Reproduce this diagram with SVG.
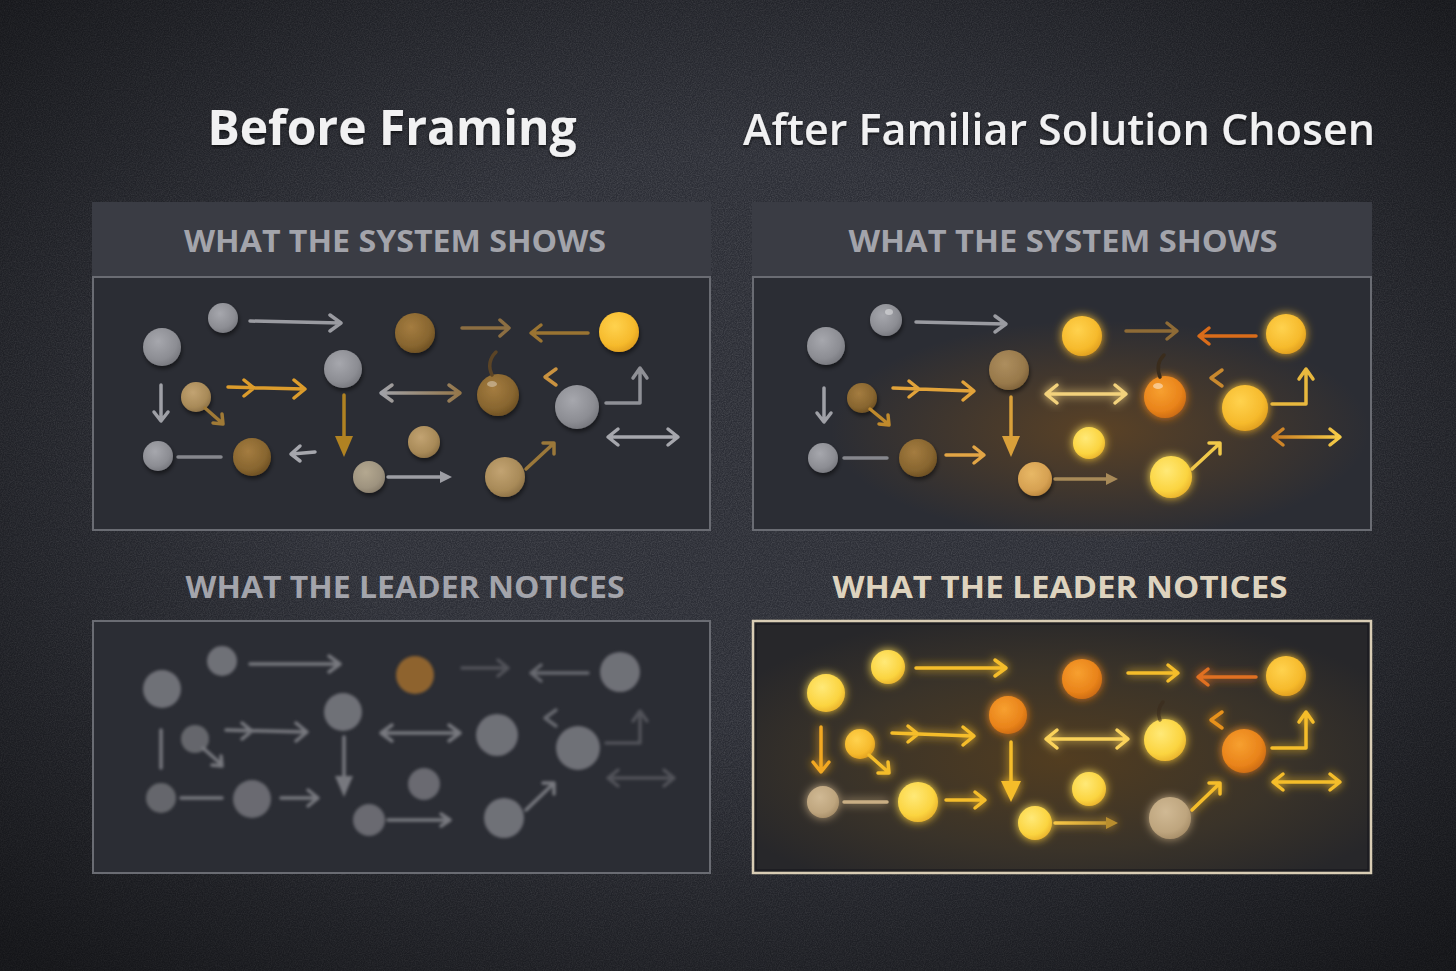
<svg xmlns="http://www.w3.org/2000/svg" width="1456" height="971" viewBox="0 0 1456 971">
<defs>
<style>
.title{font-family:"Open Sans","Noto Sans","Liberation Sans",sans-serif;fill:#f1f1f2}
.hdr{font-family:"Open Sans","Noto Sans","Liberation Sans",sans-serif;font-weight:700;font-size:30px;fill:#a3a4ab}
.box{fill:#2b2d34;stroke:#6a6c73;stroke-width:2}
.band{fill:#3a3c44}
.a{fill:none;stroke-linecap:round;stroke-linejoin:round;stroke-width:3.5}
.t{stroke:none}
</style>
<radialGradient id="vig" cx="50%" cy="45%" r="72%"><stop offset="0.4" stop-color="#000" stop-opacity="0"/><stop offset="1" stop-color="#000" stop-opacity="0.55"/></radialGradient>
<radialGradient id="gGrey" cx="40%" cy="35%" r="70%"><stop offset="0" stop-color="#a6a7ad"/><stop offset="0.7" stop-color="#8c8d93"/><stop offset="1" stop-color="#75767c"/></radialGradient>
<radialGradient id="gBrown" cx="40%" cy="35%" r="70%"><stop offset="0" stop-color="#a47c40"/><stop offset="0.7" stop-color="#87652f"/><stop offset="1" stop-color="#6a4d22"/></radialGradient>
<radialGradient id="gTan" cx="40%" cy="35%" r="70%"><stop offset="0" stop-color="#c2a372"/><stop offset="0.7" stop-color="#a88a58"/><stop offset="1" stop-color="#8a6f45"/></radialGradient>
<radialGradient id="gGreyTan" cx="40%" cy="35%" r="70%"><stop offset="0" stop-color="#b4a890"/><stop offset="0.7" stop-color="#9e937f"/><stop offset="1" stop-color="#867b69"/></radialGradient>
<radialGradient id="gYel" cx="40%" cy="35%" r="70%"><stop offset="0" stop-color="#ffd24e"/><stop offset="0.7" stop-color="#f6ba2c"/><stop offset="1" stop-color="#de9c1e"/></radialGradient>
<radialGradient id="gYelB" cx="40%" cy="35%" r="70%"><stop offset="0" stop-color="#ffe977"/><stop offset="0.7" stop-color="#fbd440"/><stop offset="1" stop-color="#e8b02a"/></radialGradient>
<radialGradient id="gOr" cx="40%" cy="35%" r="70%"><stop offset="0" stop-color="#f7a030"/><stop offset="0.7" stop-color="#e9831a"/><stop offset="1" stop-color="#c86812"/></radialGradient>
<radialGradient id="gBrL" cx="40%" cy="35%" r="70%"><stop offset="0" stop-color="#ad8e5e"/><stop offset="0.7" stop-color="#98794b"/><stop offset="1" stop-color="#7c6038"/></radialGradient>
<radialGradient id="gTanL" cx="40%" cy="35%" r="70%"><stop offset="0" stop-color="#d0b994"/><stop offset="0.7" stop-color="#bea57e"/><stop offset="1" stop-color="#a48b66"/></radialGradient>
<radialGradient id="gTanO" cx="40%" cy="35%" r="70%"><stop offset="0" stop-color="#e8b866"/><stop offset="0.7" stop-color="#d6a152"/><stop offset="1" stop-color="#b8843c"/></radialGradient>
<radialGradient id="warm2" cx="50%" cy="50%" r="50%"><stop offset="0" stop-color="#a8640e" stop-opacity="0.38"/><stop offset="1" stop-color="#a8640e" stop-opacity="0"/></radialGradient>
<radialGradient id="warm4" cx="50%" cy="55%" r="60%"><stop offset="0" stop-color="#523d20"/><stop offset="0.6" stop-color="#3a3329"/><stop offset="1" stop-color="#27272a"/></radialGradient>
<linearGradient id="gGB" gradientUnits="userSpaceOnUse" x1="381" y1="0" x2="460" y2="0"><stop offset="0" stop-color="#a0a1a7"/><stop offset="1" stop-color="#95774a"/></linearGradient>
<linearGradient id="gOY" gradientUnits="userSpaceOnUse" x1="1273" y1="0" x2="1340" y2="0"><stop offset="0" stop-color="#c87a22"/><stop offset="1" stop-color="#f6cd48"/></linearGradient>
<linearGradient id="gYA" gradientUnits="userSpaceOnUse" x1="1055" y1="0" x2="1118" y2="0"><stop offset="0" stop-color="#f7c646"/><stop offset="1" stop-color="#b98e2e"/></linearGradient>
<filter id="noise" x="0" y="0" width="100%" height="100%"><feTurbulence type="fractalNoise" baseFrequency="0.85" numOctaves="2" stitchTiles="stitch"/><feColorMatrix type="matrix" values="0 0 0 0 1 0 0 0 0 1 0 0 0 0 1 0.22 0 0 0 -0.07"/></filter>
<filter id="sh" x="-30%" y="-30%" width="160%" height="170%"><feDropShadow dx="1" dy="3" stdDeviation="2" flood-color="#000" flood-opacity="0.5"/></filter>
<filter id="glow" x="-50%" y="-50%" width="200%" height="200%"><feGaussianBlur in="SourceGraphic" stdDeviation="5" result="b"/><feMerge><feMergeNode in="b"/><feMergeNode in="SourceGraphic"/></feMerge></filter>
<filter id="blur" x="-5%" y="-5%" width="110%" height="110%"><feGaussianBlur stdDeviation="1.8"/></filter>
<filter id="tsh" x="-5%" y="-20%" width="110%" height="150%"><feDropShadow dx="0" dy="2" stdDeviation="1.5" flood-color="#000" flood-opacity="0.6"/></filter>
</defs>

<rect width="1456" height="971" fill="#2c2e36"/>
<rect width="1456" height="971" filter="url(#noise)"/>
<rect width="1456" height="971" fill="url(#vig)"/>

<g id="titles" filter="url(#tsh)">
<text class="title" x="392" y="145" text-anchor="middle" font-size="48" font-weight="700">Before Framing</text>
<text class="title" x="1059" y="145" text-anchor="middle" font-size="44" font-weight="600" textLength="632" lengthAdjust="spacingAndGlyphs">After Familiar Solution Chosen</text>
</g>

<!-- ===== Panel TL ===== -->
<g id="panel-tl">
<rect class="band" x="92" y="202" width="619" height="74"/>
<text class="hdr" x="395" y="252" text-anchor="middle" textLength="422" lengthAdjust="spacingAndGlyphs">WHAT THE SYSTEM SHOWS</text>
<rect class="box" x="93" y="277" width="617" height="253"/>
<g id="tl-nodes" filter="url(#sh)">
<circle id="tl-n1" cx="162" cy="347" r="19" fill="url(#gGrey)"/>
<circle id="tl-n2" cx="223" cy="318" r="15" fill="url(#gGrey)"/>
<circle id="tl-n4" cx="415" cy="333" r="20" fill="url(#gBrown)"/>
<circle id="tl-n7" cx="619" cy="332" r="20" fill="url(#gYel)"/>
<circle id="tl-n8" cx="343" cy="369" r="19" fill="url(#gGrey)"/>
<circle id="tl-n10" cx="196" cy="397" r="15" fill="url(#gTan)"/>
<circle id="tl-n13" cx="498" cy="395" r="21" fill="url(#gBrown)"/>
<circle id="tl-n15" cx="577" cy="407" r="22" fill="url(#gGrey)"/>
<circle id="tl-n18" cx="158" cy="456" r="15" fill="url(#gGrey)"/>
<circle id="tl-n20" cx="252" cy="457" r="19" fill="url(#gBrown)"/>
<circle id="tl-n23" cx="424" cy="442" r="16" fill="url(#gTan)"/>
<circle id="tl-n24" cx="369" cy="477" r="16" fill="url(#gGreyTan)"/>
<circle id="tl-n26" cx="505" cy="477" r="20" fill="url(#gTan)"/>
</g>
<ellipse cx="492" cy="384" rx="5" ry="3" fill="#fff" opacity="0.35"/>
<g id="tl-connectors" class="conn">
<path class="a" stroke="#9a9ba1" d="M250 321 L340 323 M330 315 L341 323 L330 331"/>
<path class="a" stroke="#8c6e42" d="M462 328 L509 328 M500 320 L509 328 L500 336"/>
<path class="a" stroke="#9a7432" d="M588 333 L532 333 M541 325 L531 333 L541 341"/>
<path class="a" stroke="#5b4426" stroke-width="2.5" d="M492 375 Q486 362 496 352"/>
<path class="a" stroke="#9fa0a6" stroke-width="3" d="M161 385 L161 420 M154 412 L161 421 L168 412"/>
<path class="a" stroke="#a07a36" d="M205 408 L221 422 M213 423 L223 424 L222 414"/>
<path class="a" stroke="#dc9c2c" stroke-width="4" d="M228 387 L304 389 M244 380 L254 388 L244 396 M294 380 L305 389 L294 398"/>
<path class="a" stroke="url(#gGB)" stroke-width="4" d="M383 393 L458 393 M392 385 L381 393 L392 401 M449 385 L460 393 L449 401"/>
<path class="a" stroke="#c99240" stroke-width="4" d="M556 369 L545 377 L556 385"/>
<path class="a" stroke="#8f9096" stroke-width="3" d="M606 403 L640 403 L640 369 M633 378 L640 368 L647 378"/>
<path class="a" stroke="#a6a7ad" d="M609 437 L677 437 M618 429 L608 437 L618 445 M668 429 L678 437 L668 445"/>
<path class="a" stroke="#86878d" stroke-width="3" d="M178 457 L221 457"/>
<path class="a" stroke="#a6a7ad" d="M315 452 L292 454 M300 446 L291 454 L300 461"/>
<path class="a" stroke="#b08222" stroke-width="3.5" d="M344 395 L344 440"/>
<path class="t" fill="#b08222" d="M335 436 L353 436 L344 457 Z"/>
<path class="a" stroke="#9d9ea4" stroke-width="3" d="M388 477 L441 477"/>
<path class="t" fill="#9d9ea4" d="M440 471 L452 477 L440 483 Z"/>
<path class="a" stroke="#9b783a" d="M526 469 L553 444 M543 443 L554 443 L554 454"/>
</g>
</g>

<!-- ===== Panel TR ===== -->
<g id="panel-tr">
<rect class="band" x="752" y="202" width="620" height="74"/>
<text class="hdr" x="1063" y="252" text-anchor="middle" textLength="429" lengthAdjust="spacingAndGlyphs">WHAT THE SYSTEM SHOWS</text>
<rect class="box" x="753" y="277" width="618" height="253"/>
<ellipse cx="1100" cy="430" rx="270" ry="110" fill="url(#warm2)"/>
<g id="tr-nodes" filter="url(#sh)">
<circle id="tr-n1" cx="826" cy="346" r="19" fill="url(#gGrey)"/>
<circle id="tr-n2" cx="886" cy="320" r="16" fill="url(#gGrey)"/>
<circle id="tr-n8" cx="1009" cy="370" r="20" fill="url(#gBrL)"/>
<circle id="tr-n10" cx="862" cy="398" r="15" fill="url(#gBrown)"/>
<circle id="tr-n18" cx="823" cy="458" r="15" fill="url(#gGrey)"/>
<circle id="tr-n20" cx="918" cy="458" r="19" fill="url(#gBrown)"/>
<circle id="tr-n24" cx="1035" cy="479" r="17" fill="url(#gTanO)"/>
</g>
<g id="tr-bright" filter="url(#glow)">
<circle id="tr-n4" cx="1082" cy="336" r="20" fill="url(#gYel)"/>
<circle id="tr-n7" cx="1286" cy="334" r="20" fill="url(#gYel)"/>
<circle id="tr-n13" cx="1165" cy="397" r="21" fill="url(#gOr)"/>
<circle id="tr-n15" cx="1245" cy="408" r="23" fill="url(#gYel)"/>
<circle id="tr-n23" cx="1089" cy="443" r="16" fill="url(#gYelB)"/>
<circle id="tr-n26" cx="1171" cy="477" r="21" fill="url(#gYelB)"/>
</g>
<ellipse cx="889" cy="312" rx="4" ry="3" fill="#fff" opacity="0.4"/>
<ellipse cx="1158" cy="386" rx="5" ry="3" fill="#fff" opacity="0.45"/>
<g id="tr-connectors" class="conn">
<path class="a" stroke="#9a9ba1" d="M916 322 L1005 324 M995 316 L1006 324 L995 332"/>
<path class="a" stroke="#8e6b36" d="M1126 331 L1176 331 M1167 323 L1177 331 L1167 339"/>
<path class="a" stroke="#d96c1a" d="M1256 336 L1200 336 M1209 328 L1199 336 L1209 344"/>
<path class="a" stroke="#3a2c1c" stroke-width="2.5" d="M1160 377 Q1155 364 1164 355"/>
<path class="a" stroke="#9fa0a6" stroke-width="3" d="M824 388 L824 421 M817 413 L824 422 L831 413"/>
<path class="a" stroke="#c08a2c" d="M870 409 L887 423 M879 424 L889 425 L888 415"/>
<path class="a" stroke="#e2a33a" stroke-width="4" d="M893 388 L972 391 M909 381 L919 389 L909 397 M963 382 L974 391 L963 400"/>
<path class="a" stroke="#f3d27c" stroke-width="5" d="M1047 394 L1124 394 M1057 385 L1046 394 L1057 403 M1115 385 L1126 394 L1115 403" filter="url(#glow)"/>
<path class="a" stroke="#c9892e" stroke-width="4" d="M1222 370 L1211 378 L1222 386"/>
<path class="a" stroke="#e8b83e" d="M1272 404 L1306 404 L1306 370 M1299 379 L1306 369 L1313 379"/>
<path class="a" stroke="url(#gOY)" stroke-width="4" d="M1274 437 L1339 437 M1283 429 L1273 437 L1283 445 M1330 429 L1340 437 L1330 445"/>
<path class="a" stroke="#86878d" stroke-width="3" d="M844 458 L887 458"/>
<path class="a" stroke="#e2a545" d="M946 455 L982 455 M974 447 L984 455 L974 463"/>
<path class="a" stroke="#d9a03a" stroke-width="3.5" d="M1011 397 L1011 440"/>
<path class="t" fill="#d9a03a" d="M1002 436 L1020 436 L1011 457 Z"/>
<path class="a" stroke="#a88a58" stroke-width="3.5" d="M1055 479 L1107 479"/>
<path class="t" fill="#a88a58" d="M1106 473 L1118 479 L1106 485 Z"/>
<path class="a" stroke="#f0c84a" d="M1192 469 L1219 444 M1209 443 L1220 443 L1220 454"/>
</g>
</g>

<!-- ===== Panel BL ===== -->
<g id="panel-bl">
<text class="hdr" x="405" y="598" text-anchor="middle" textLength="439" lengthAdjust="spacingAndGlyphs" fill="#a7a8ae">WHAT THE LEADER NOTICES</text>
<rect class="box" x="93" y="621" width="617" height="252"/>
<g id="bl-content" filter="url(#blur)" opacity="0.85">
<g id="bl-nodes" fill="#7c7d83">
<circle id="bl-n1" cx="162" cy="689" r="19"/>
<circle id="bl-n2" cx="222" cy="661" r="15"/>
<circle id="bl-n4" cx="415" cy="675" r="19" fill="#a06d2e"/>
<circle id="bl-n7" cx="620" cy="672" r="20"/>
<circle id="bl-n8" cx="343" cy="712" r="19"/>
<circle id="bl-n10" cx="195" cy="739" r="14" fill="#707176"/>
<circle id="bl-n13" cx="497" cy="735" r="21"/>
<circle id="bl-n15" cx="578" cy="748" r="22"/>
<circle id="bl-n18" cx="161" cy="798" r="15" fill="#707176"/>
<circle id="bl-n20" cx="252" cy="799" r="19" fill="#74757b"/>
<circle id="bl-n23" cx="424" cy="784" r="16" fill="#74757b"/>
<circle id="bl-n24" cx="369" cy="820" r="16" fill="#74757b"/>
<circle id="bl-n26" cx="504" cy="818" r="20"/>
</g>
<g id="bl-connectors" stroke="#85868c">
<path class="a" d="M250 664 L339 664 M329 656 L340 664 L329 672"/>
<path class="a" opacity="0.5" d="M462 668 L507 668 M498 660 L508 668 L498 676"/>
<path class="a" opacity="0.8" d="M588 673 L532 673 M541 665 L531 673 L541 681"/>
<path class="a" stroke-width="3" d="M161 730 L161 768"/>
<path class="a" d="M203 748 L221 764 M212 765 L222 766 L221 756"/>
<path class="a" stroke-width="4" d="M226 730 L306 732 M242 723 L252 731 L242 739 M296 723 L307 732 L296 741"/>
<path class="a" stroke-width="4" d="M383 733 L458 733 M392 725 L381 733 L392 741 M449 725 L460 733 L449 741"/>
<path class="a" stroke-width="4" opacity="0.8" d="M556 710 L545 718 L556 726"/>
<path class="a" stroke-width="3" opacity="0.5" d="M606 743 L640 743 L640 712 M633 721 L640 711 L647 721"/>
<path class="a" opacity="0.5" d="M609 778 L673 778 M618 770 L608 778 L618 786 M664 770 L674 778 L664 786"/>
<path class="a" stroke-width="3" d="M181 798 L222 798"/>
<path class="a" d="M281 798 L317 798 M308 790 L318 798 L308 806"/>
<path class="a" d="M344 737 L344 780"/>
<path class="t" fill="#85868c" d="M335 776 L353 776 L344 797 Z"/>
<path class="a" stroke-width="3" d="M388 820 L449 820 M441 814 L450 820 L441 826"/>
<path class="a" d="M526 810 L553 784 M543 783 L554 783 L554 794"/>
</g>
</g>
</g>

<!-- ===== Panel BR ===== -->
<g id="panel-br">
<text class="hdr" x="1060" y="598" text-anchor="middle" textLength="455" lengthAdjust="spacingAndGlyphs" style="fill:#ded3be">WHAT THE LEADER NOTICES</text>
<rect x="753" y="621" width="618" height="252" fill="url(#warm4)" stroke="#d9cdb5" stroke-width="2.5"/>
<rect x="756" y="624" width="612" height="246" fill="none" stroke="#15151a" stroke-width="1"/>
<g id="br-content" filter="url(#glow)">
<g id="br-nodes">
<circle id="br-n1" cx="826" cy="693" r="19" fill="url(#gYelB)"/>
<circle id="br-n2" cx="888" cy="667" r="17" fill="url(#gYelB)"/>
<circle id="br-n4" cx="1082" cy="679" r="20" fill="url(#gOr)"/>
<circle id="br-n7" cx="1286" cy="676" r="20" fill="url(#gYel)"/>
<circle id="br-n8" cx="1008" cy="715" r="19" fill="url(#gOr)"/>
<circle id="br-n10" cx="860" cy="744" r="15" fill="url(#gYel)"/>
<circle id="br-n13" cx="1165" cy="740" r="21" fill="url(#gYelB)"/>
<circle id="br-n15" cx="1244" cy="751" r="22" fill="url(#gOr)"/>
<circle id="br-n18" cx="823" cy="802" r="16" fill="url(#gTanL)"/>
<circle id="br-n20" cx="918" cy="802" r="20" fill="url(#gYelB)"/>
<circle id="br-n23" cx="1089" cy="789" r="17" fill="url(#gYelB)"/>
<circle id="br-n24" cx="1035" cy="823" r="17" fill="url(#gYelB)"/>
<circle id="br-n26" cx="1170" cy="818" r="21" fill="url(#gTanL)"/>
</g>
<g id="br-connectors" stroke="#f5bd2a">
<path class="a" stroke-width="4" d="M916 668 L1005 668 M995 660 L1006 668 L995 676"/>
<path class="a" stroke-width="4" d="M1128 673 L1177 673 M1168 665 L1178 673 L1168 681"/>
<path class="a" stroke="#e07020" d="M1256 677 L1199 677 M1208 669 L1198 677 L1208 685"/>
<path class="a" stroke="#f2a820" stroke-width="4" d="M821 727 L821 771 M813 762 L821 772 L829 762"/>
<path class="a" stroke-width="4" d="M869 755 L887 771 M878 773 L889 773 L888 762"/>
<path class="a" stroke-width="4.5" d="M892 733 L972 736 M908 726 L918 734 L908 742 M963 727 L974 736 L963 745"/>
<path class="a" stroke="#fad25a" stroke-width="5" d="M1047 739 L1126 739 M1057 730 L1046 739 L1057 748 M1117 730 L1128 739 L1117 748"/>
<path class="a" stroke="#e8921a" stroke-width="4.5" d="M1222 712 L1211 720 L1222 728"/>
<path class="a" stroke-width="4" d="M1272 748 L1306 748 L1306 713 M1299 722 L1306 712 L1313 722"/>
<path class="a" stroke-width="4" d="M1274 782 L1339 782 M1283 774 L1273 782 L1283 790 M1330 774 L1340 782 L1330 790"/>
<path class="a" stroke="#c9ae84" d="M844 802 L887 802"/>
<path class="a" stroke-width="4" d="M946 800 L983 800 M975 792 L985 800 L975 808"/>
<path class="a" stroke-width="4" d="M1011 742 L1011 785"/>
<path class="t" fill="#f5bd2a" d="M1001 781 L1021 781 L1011 802 Z"/>
<path class="a" stroke="url(#gYA)" stroke-width="4" d="M1055 823 L1107 823"/>
<path class="t" fill="#b98e2e" d="M1106 817 L1118 823 L1106 829 Z"/>
<path class="a" stroke-width="4" d="M1192 810 L1219 784 M1209 783 L1220 783 L1220 794"/>
</g>
</g>
<path class="a" stroke="#3a2c1c" stroke-width="2" opacity="0.6" d="M1160 720 Q1156 710 1163 702"/>
</g>
</svg>
